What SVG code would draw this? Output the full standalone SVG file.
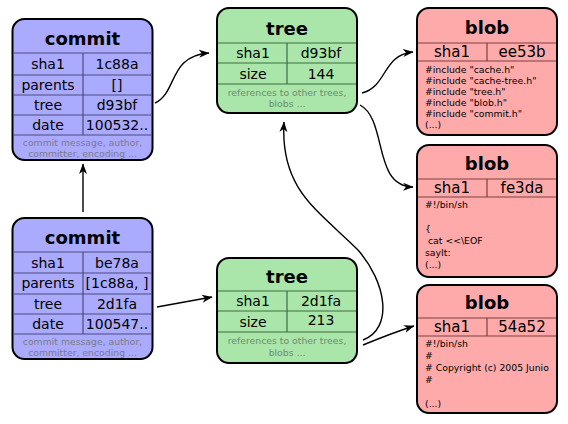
<svg xmlns="http://www.w3.org/2000/svg" width="568" height="424" viewBox="0 0 568 424">
<defs>
<marker id="ah" markerUnits="userSpaceOnUse" markerWidth="11" markerHeight="9" refX="10" refY="4.5" orient="auto">
<path d="M0,0.5 L10.5,4.5 L0,8.5 L3,4.5 z" fill="#000"/>
</marker>
</defs>
<style>
text{font-family:"DejaVu Sans","Liberation Sans",sans-serif;fill:#000}
.box{stroke:#000;stroke-width:2}
.commit{fill:#aaaaff}
.tree{fill:#aae6aa}
.blob{fill:#ffaaaa}
.title{font-size:18px;font-weight:bold;text-anchor:middle}
.cell{font-size:14px;text-anchor:middle}
.bcell{font-size:15px;text-anchor:middle}
.note{font-size:9.3px;text-anchor:middle;fill:#7a7a8a}
.tnote{font-size:9.3px;text-anchor:middle;fill:#6f8a6f}
.code{font-size:9.3px}
.cl{stroke:#4a4a7a;stroke-width:1.2}
.tl{stroke:#3f6a3f;stroke-width:1.2}
.bl{stroke:#7a3f3f;stroke-width:1.2}
.conn{fill:none;stroke:#000;stroke-width:1.4;marker-end:url(#ah)}
</style>

<g id="connectors">
<path class="conn" d="M155,103 C178,92 168,56 209,53"/>
<path class="conn" d="M157,307 L212,297"/>
<path class="conn" d="M83,212 L83,164"/>
<path class="conn" d="M362,93 C388,86 382,55 413,52"/>
<path class="conn" d="M360,105 C388,120 372,186 413,187"/>
<path class="conn" d="M363,340 C394,328 386,282 358,250 C318,210 280,190 284,122"/>
<path class="conn" d="M363,345 C380,338 395,332 414,326"/>
</g>

<g id="commit1">
<rect class="box commit" x="12.5" y="19" width="140" height="141" rx="12"/>
<line class="cl" x1="13" y1="53" x2="152" y2="53"/>
<line class="cl" x1="13" y1="75" x2="152" y2="75"/>
<line class="cl" x1="13" y1="95" x2="152" y2="95"/>
<line class="cl" x1="13" y1="115" x2="152" y2="115"/>
<line class="cl" x1="13" y1="135" x2="152" y2="135"/>
<line class="cl" x1="83" y1="53" x2="83" y2="135"/>
<text class="title" x="82.5" y="45">commit</text>
<text class="cell" x="48" y="69">sha1</text>
<text class="cell" x="117" y="69">1c88a</text>
<text class="cell" x="48" y="90">parents</text>
<text class="cell" x="117" y="90">[]</text>
<text class="cell" x="48" y="110">tree</text>
<text class="cell" x="117" y="110">d93bf</text>
<text class="cell" x="48" y="130">date</text>
<text class="cell" x="117" y="130">100532..</text>
<text class="note" x="82.5" y="146">commit message, author,</text>
<text class="note" x="82.5" y="157">committer, encoding ...</text>
</g>

<g id="commit2">
<rect class="box commit" x="12.5" y="218" width="140" height="141" rx="12"/>
<line class="cl" x1="13" y1="252" x2="152" y2="252"/>
<line class="cl" x1="13" y1="273" x2="152" y2="273"/>
<line class="cl" x1="13" y1="294" x2="152" y2="294"/>
<line class="cl" x1="13" y1="314" x2="152" y2="314"/>
<line class="cl" x1="13" y1="334" x2="152" y2="334"/>
<line class="cl" x1="83" y1="252" x2="83" y2="334"/>
<text class="title" x="82.5" y="244">commit</text>
<text class="cell" x="48" y="268">sha1</text>
<text class="cell" x="117" y="268">be78a</text>
<text class="cell" x="48" y="288">parents</text>
<text class="cell" x="117" y="288">[1c88a, ]</text>
<text class="cell" x="48" y="309">tree</text>
<text class="cell" x="117" y="309">2d1fa</text>
<text class="cell" x="48" y="329">date</text>
<text class="cell" x="117" y="329">100547..</text>
<text class="note" x="82.5" y="345">commit message, author,</text>
<text class="note" x="82.5" y="356">committer, encoding ...</text>
</g>

<g id="tree1">
<rect class="box tree" x="217" y="8" width="140" height="105" rx="12"/>
<line class="tl" x1="218" y1="43" x2="356" y2="43"/>
<line class="tl" x1="218" y1="63" x2="356" y2="63"/>
<line class="tl" x1="218" y1="84" x2="356" y2="84"/>
<line class="tl" x1="287" y1="43" x2="287" y2="84"/>
<text class="title" x="287" y="35">tree</text>
<text class="cell" x="253" y="58">sha1</text>
<text class="cell" x="321" y="58">d93bf</text>
<text class="cell" x="253" y="79">size</text>
<text class="cell" x="321" y="79">144</text>
<text class="tnote" x="287" y="96">references to other trees,</text>
<text class="tnote" x="287" y="107">blobs ...</text>
</g>

<g id="tree2">
<rect class="box tree" x="217" y="258" width="140" height="105" rx="12"/>
<line class="tl" x1="218" y1="291" x2="356" y2="291"/>
<line class="tl" x1="218" y1="311" x2="356" y2="311"/>
<line class="tl" x1="218" y1="332" x2="356" y2="332"/>
<line class="tl" x1="287" y1="291" x2="287" y2="332"/>
<text class="title" x="287" y="283">tree</text>
<text class="cell" x="253" y="306">sha1</text>
<text class="cell" x="321" y="306">2d1fa</text>
<text class="cell" x="253" y="327">size</text>
<text class="cell" x="321" y="325">213</text>
<text class="tnote" x="287" y="344">references to other trees,</text>
<text class="tnote" x="287" y="356">blobs ...</text>
</g>

<g id="blob1">
<rect class="box blob" x="417" y="8" width="140" height="127" rx="12"/>
<line class="bl" x1="418" y1="43" x2="556" y2="43"/>
<line class="bl" x1="418" y1="61" x2="556" y2="61"/>
<line class="bl" x1="487" y1="43" x2="487" y2="61"/>
<text class="title" x="487" y="34">blob</text>
<text class="bcell" x="452" y="57">sha1</text>
<text class="bcell" x="522" y="57">ee53b</text>
<text class="code" x="425" y="73">#include "cache.h"</text>
<text class="code" x="425" y="84">#include "cache-tree.h"</text>
<text class="code" x="425" y="95">#include "tree.h"</text>
<text class="code" x="425" y="106">#include "blob.h"</text>
<text class="code" x="425" y="117">#include "commit.h"</text>
<text class="code" x="425" y="128">(...)</text>
</g>

<g id="blob2">
<rect class="box blob" x="417" y="145" width="140" height="132" rx="12"/>
<line class="bl" x1="418" y1="179" x2="556" y2="179"/>
<line class="bl" x1="418" y1="197" x2="556" y2="197"/>
<line class="bl" x1="487" y1="179" x2="487" y2="197"/>
<text class="title" x="487" y="170">blob</text>
<text class="bcell" x="452" y="193">sha1</text>
<text class="bcell" x="522" y="193">fe3da</text>
<text class="code" x="425" y="208">#!/bin/sh</text>
<text class="code" x="425" y="232">{</text>
<text class="code" x="428" y="244">cat &lt;&lt;\EOF</text>
<text class="code" x="425" y="256">sayIt:</text>
<text class="code" x="425" y="268">(...)</text>
</g>

<g id="blob3">
<rect class="box blob" x="417" y="285" width="140" height="128" rx="12"/>
<line class="bl" x1="418" y1="318" x2="556" y2="318"/>
<line class="bl" x1="418" y1="336" x2="556" y2="336"/>
<line class="bl" x1="487" y1="318" x2="487" y2="336"/>
<text class="title" x="487" y="309">blob</text>
<text class="bcell" x="452" y="332">sha1</text>
<text class="bcell" x="522" y="332">54a52</text>
<text class="code" x="425" y="347">#!/bin/sh</text>
<text class="code" x="425" y="359">#</text>
<text class="code" x="425" y="371"># Copyright (c) 2005 Junio</text>
<text class="code" x="425" y="383">#</text>
<text class="code" x="425" y="407">(...)</text>
</g>
</svg>
